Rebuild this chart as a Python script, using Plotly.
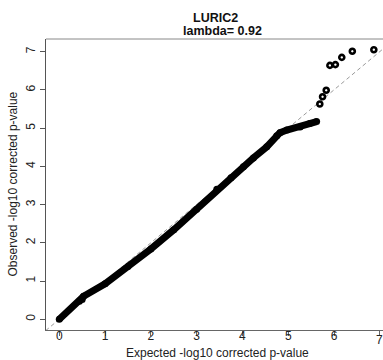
import plotly.graph_objects as go

# QQ plot data (expected vs observed -log10 p)
exp_dense = [0.0, 0.44, 0.50, 0.53, 1.0, 1.5, 2.0, 2.5, 3.0, 3.44, 3.75, 4.02, 4.24, 4.53, 4.75, 4.82, 4.97, 5.26, 5.47, 5.62]
obs_dense = [0.0, 0.47, 0.52, 0.60, 0.93, 1.38, 1.84, 2.34, 2.88, 3.40, 3.70, 3.99, 4.22, 4.51, 4.80, 4.88, 4.95, 5.03, 5.12, 5.17]
exp_top = [5.69, 5.75, 5.83, 5.91, 6.03, 6.17, 6.40, 6.87]
obs_top = [5.63, 5.82, 5.99, 6.64, 6.66, 6.85, 7.01, 7.05]
diag = [-1, 8]
tick_vals = [0, 1, 2, 3, 4, 5, 6, 7]

title_main = "LURIC2"
title_sub = "lambda= 0.92"
x_title = "Expected -log10 corrected p-value"
y_title = "Observed -log10 corrected p-value"

FONT = "Liberation Sans, Arial, sans-serif"

fig = go.Figure()
fig.add_trace(go.Scatter(x=diag, y=diag, mode="lines",
                         line=dict(color="#9a9a9a", width=1, dash="4px,3px"),
                         hoverinfo="skip", showlegend=False))
fig.add_trace(go.Scatter(x=exp_dense, y=obs_dense, mode="lines+markers",
                         line=dict(color="black", width=7),
                         marker=dict(color="black", size=7),
                         showlegend=False))
fig.add_trace(go.Scatter(x=exp_top, y=obs_top, mode="markers",
                         marker=dict(symbol="circle-open", color="black", size=5,
                                     line=dict(width=2.6, color="black")),
                         showlegend=False))
# invisible trace to activate the label-only x axis
fig.add_trace(go.Scatter(x=[0], y=[0], xaxis="x2", mode="markers",
                         marker=dict(opacity=0), hoverinfo="skip", showlegend=False))

annotations = [
    dict(text="<b>%s</b>" % title_main, xref="paper", yref="paper",
         x=(215.5 - 46) / 337, y=1, yshift=21, xanchor="center", yanchor="middle",
         showarrow=False, font=dict(size=12.5, color="#111")),
    dict(text="<b>%s</b>" % title_sub, xref="paper", yref="paper",
         x=(222 - 46) / 337, y=1, yshift=8, xanchor="center", yanchor="middle",
         showarrow=False, font=dict(size=12.5, color="#111")),
    dict(text=x_title, xref="paper", yref="paper",
         x=(217 - 46) / 337, y=0, yshift=-23, xanchor="center", yanchor="middle",
         showarrow=False, font=dict(size=12, color="#222")),
    dict(text=y_title, xref="paper", yref="paper", textangle=-90,
         x=0, xshift=-34, y=0.5, xanchor="center", yanchor="middle",
         showarrow=False, font=dict(size=12, color="#222")),
    # last x tick label sits on the cropped right edge; plotly drops it, so draw it
    dict(text=str(tick_vals[-1]), xref="x", yref="paper", x=tick_vals[-1], y=0,
         yshift=-10, xanchor="center", yanchor="middle", showarrow=False,
         font=dict(size=12, color="#222")),
]

fig.update_layout(
    width=383, height=360,
    margin=dict(l=46, r=0, t=39, b=30, pad=0),
    plot_bgcolor="white", paper_bgcolor="white",
    font=dict(family=FONT, size=12, color="#222"),
    xaxis=dict(range=[-0.29, 7.07], tickvals=tick_vals, showgrid=False, zeroline=False,
               showline=True, linecolor="#666", linewidth=1,
               ticks="outside", ticklen=5, tickcolor="#666",
               showticklabels=False, fixedrange=True),
    xaxis2=dict(range=[-0.29, 7.07], tickvals=tick_vals[:-1], overlaying="x", matches="x",
                anchor="free", position=0.012, side="bottom",
                showgrid=False, zeroline=False, showline=False, ticks="",
                tickfont=dict(size=12, color="#222"), fixedrange=True),
    yaxis=dict(range=[-0.28, 7.33], tickvals=tick_vals, showgrid=False, zeroline=False,
               showline=True, linecolor="#555", linewidth=1,
               ticks="outside", ticklen=5, tickcolor="#555", tickangle=-90,
               tickfont=dict(size=12, color="#222"), fixedrange=True),
    shapes=[dict(type="line", xref="paper", yref="paper", x0=0, x1=1, y0=1, y1=1,
                 line=dict(color="#888", width=1))],
    annotations=annotations,
)

fig.write_html("out.html")
